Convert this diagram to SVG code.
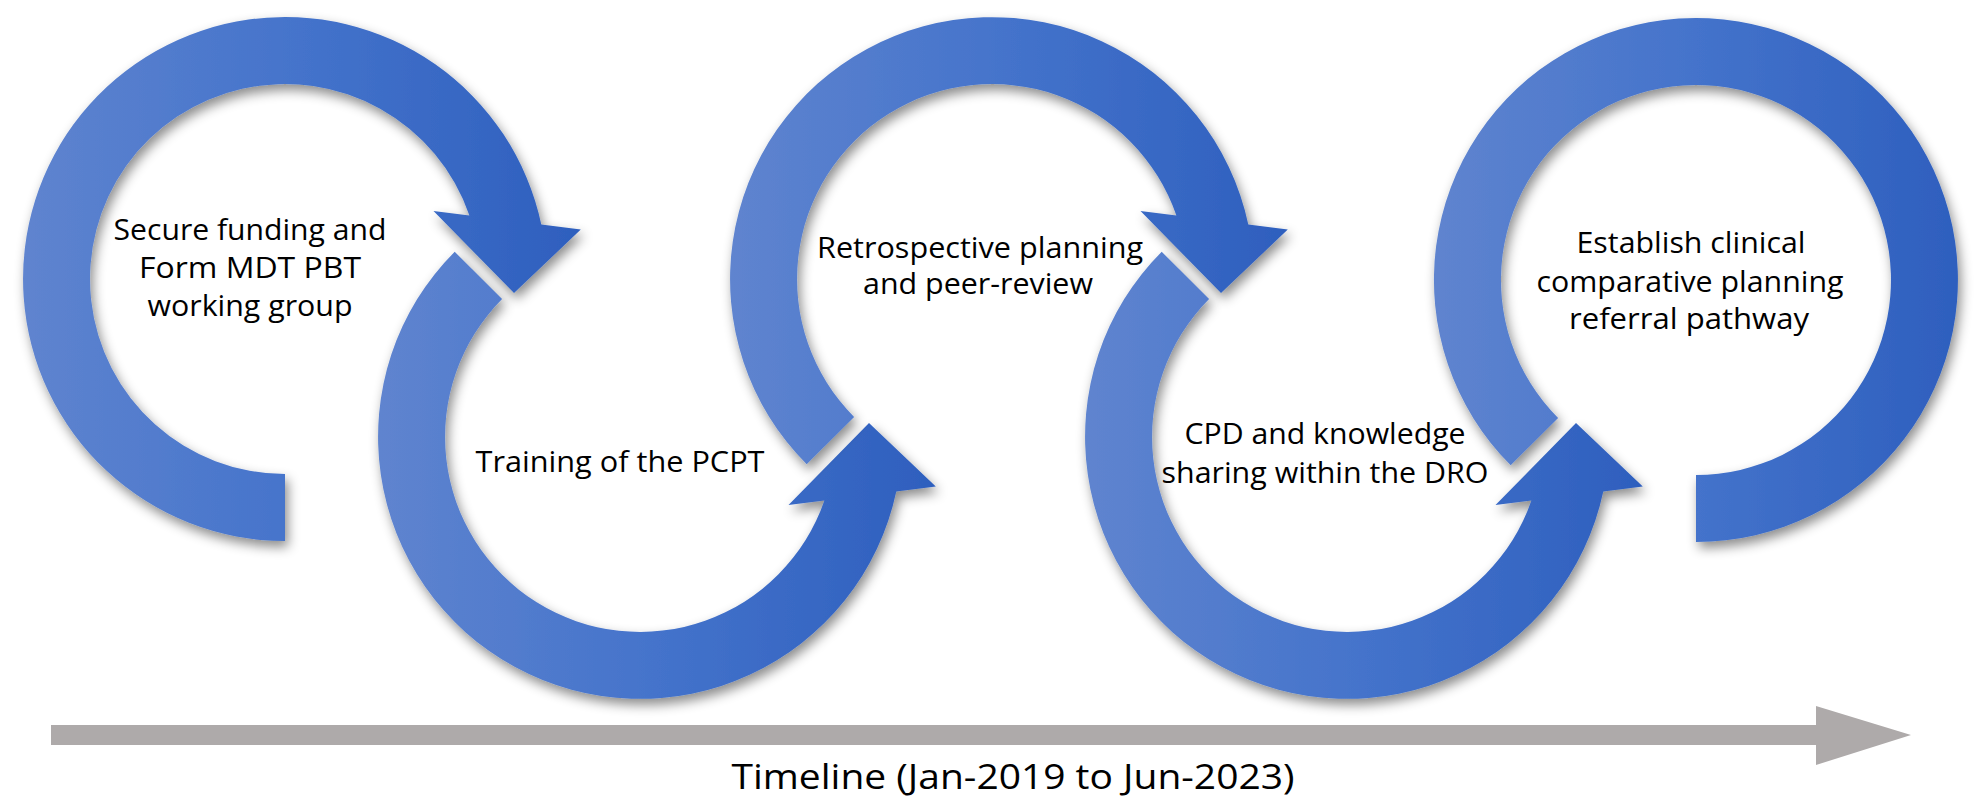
<svg xmlns="http://www.w3.org/2000/svg" width="1984" height="801" viewBox="0 0 1984 801">
<defs>
<linearGradient id="g" x1="0" y1="0" x2="1" y2="0">
<stop offset="0" stop-color="#5f84cf"/>
<stop offset="0.5" stop-color="#4473cb"/>
<stop offset="1" stop-color="#2e5fbe"/>
</linearGradient>
<filter id="sh" x="-10%" y="-10%" width="130%" height="130%">
<feDropShadow dx="3" dy="6" stdDeviation="6" flood-color="#000" flood-opacity="0.45"/>
</filter>
<style>
.arc{fill:url(#g);filter:url(#sh)}
.t{font-family:"Open Sans","Noto Sans",sans-serif;font-size:29px;fill:#000;text-anchor:middle}
.tl{font-family:"Open Sans","Noto Sans",sans-serif;font-size:34px;fill:#000;text-anchor:middle}
</style>
</defs>
<rect width="1984" height="801" fill="#fff"/>
<g id="connectors">
<path d="M51 725 H1816 V706 L1911 735 L1816 765 V745 H51 Z" fill="#aeaaaa"/>
</g>
<g id="arc1"><path class="arc" d="M285 541 A262 262 0 1 1 541.3 224.5 L580.8 229.5 L514 293 L433.5 211 L469.4 215.5 A195 195 0 1 0 285 474 Z"/></g>
<g id="arc2"><path class="arc" d="M454.7 251.7 A262 262 0 1 0 896.3 491.5 L935.8 486.5 L869 423 L788.5 505 L824.4 500.5 A195 195 0 1 1 502.1 299.1 Z"/></g>
<g id="arc3"><path class="arc" d="M806.7 464.3 A262 262 0 1 1 1248.3 224.5 L1287.8 229.5 L1221 293 L1140.5 211 L1176.4 215.5 A195 195 0 1 0 854.1 416.9 Z"/></g>
<g id="arc4"><path class="arc" d="M1161.7 251.7 A262 262 0 1 0 1603.3 491.5 L1642.8 486.5 L1576 423 L1495.5 505 L1531.4 500.5 A195 195 0 1 1 1209.1 299.1 Z"/></g>
<g id="arc5"><path class="arc" d="M1510.7 465.3 A262 262 0 1 1 1696 542 L1696 475 A195 195 0 1 0 1558.1 417.9 Z"/></g>
<g id="label1">
<text class="t" x="250" y="240" textLength="273" lengthAdjust="spacingAndGlyphs">Secure funding and</text>
<text class="t" x="250" y="278" textLength="222" lengthAdjust="spacingAndGlyphs">Form MDT PBT</text>
<text class="t" x="250" y="316" textLength="205" lengthAdjust="spacingAndGlyphs">working group</text>
</g>
<g id="label2"><text class="t" x="620" y="472" textLength="289" lengthAdjust="spacingAndGlyphs">Training of the PCPT</text></g>
<g id="label3">
<text class="t" x="980" y="258" textLength="326" lengthAdjust="spacingAndGlyphs">Retrospective  planning</text>
<text class="t" x="978" y="294" textLength="230" lengthAdjust="spacingAndGlyphs">and peer-review</text>
</g>
<g id="label4">
<text class="t" x="1325" y="444" textLength="281" lengthAdjust="spacingAndGlyphs">CPD and knowledge</text>
<text class="t" x="1325" y="483" textLength="327" lengthAdjust="spacingAndGlyphs">sharing within the DRO</text>
</g>
<g id="label5">
<text class="t" x="1691" y="253" textLength="229" lengthAdjust="spacingAndGlyphs">Establish  clinical</text>
<text class="t" x="1690" y="292" textLength="307" lengthAdjust="spacingAndGlyphs">comparative planning</text>
<text class="t" x="1689" y="329" textLength="240" lengthAdjust="spacingAndGlyphs">referral pathway</text>
</g>
<g id="timeline-label"><text class="tl" x="1013" y="789" textLength="563" lengthAdjust="spacingAndGlyphs">Timeline (Jan-2019 to Jun-2023)</text></g>
</svg>
